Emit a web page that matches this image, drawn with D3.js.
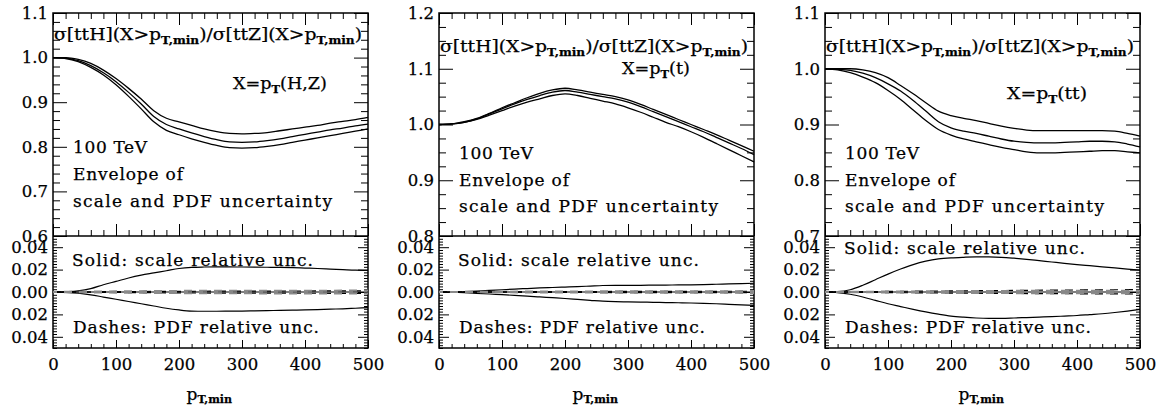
<!DOCTYPE html>
<html>
<head>
<meta charset="utf-8">
<script src="https://cdn.jsdelivr.net/npm/d3@7"></script>
<style>
  body { margin: 0; background: #fff; }
  text { font-family: "DejaVu Serif", "Liberation Serif", serif; fill: #000; stroke: #000; stroke-width: 0.25; }
</style>
</head>
<body>
<svg id="chart" width="1167" height="409"></svg>
<script>
// pT,min grid shared by all curves
const xGrid = [0, 20, 40, 60, 80, 100, 120, 140, 160, 180, 200, 220, 240, 260, 280, 300, 320, 340, 360, 380, 400, 420, 440, 460, 480, 500];
const pdfX = [0, 100, 200, 300, 400, 500];

// ratio ttH/ttZ, envelope (upper, central, lower) -- X = pT(H,Z)
const hzUp  = [1.000, 1.000, 0.996, 0.987, 0.972, 0.953, 0.931, 0.907, 0.881, 0.864, 0.856, 0.848, 0.840, 0.834, 0.830, 0.829, 0.830, 0.832, 0.836, 0.840, 0.844, 0.848, 0.853, 0.857, 0.861, 0.866];
const hzMid = [1.000, 0.999, 0.993, 0.982, 0.966, 0.946, 0.922, 0.896, 0.868, 0.850, 0.840, 0.831, 0.823, 0.816, 0.811, 0.810, 0.811, 0.814, 0.818, 0.823, 0.828, 0.833, 0.838, 0.842, 0.847, 0.851];
const hzDn  = [1.000, 0.998, 0.991, 0.978, 0.961, 0.939, 0.913, 0.885, 0.856, 0.837, 0.827, 0.818, 0.810, 0.803, 0.798, 0.797, 0.798, 0.801, 0.805, 0.810, 0.815, 0.820, 0.825, 0.830, 0.835, 0.840];
// X = pT(t)
const tUp  = [1.000, 1.001, 1.005, 1.011, 1.020, 1.030, 1.039, 1.048, 1.056, 1.062, 1.065, 1.062, 1.058, 1.054, 1.050, 1.044, 1.036, 1.027, 1.018, 1.009, 1.000, 0.991, 0.982, 0.972, 0.962, 0.952];
const tMid = [1.000, 1.001, 1.004, 1.010, 1.019, 1.028, 1.037, 1.045, 1.052, 1.058, 1.061, 1.058, 1.054, 1.050, 1.046, 1.040, 1.032, 1.023, 1.014, 1.005, 0.996, 0.987, 0.977, 0.967, 0.957, 0.946];
const tDn  = [1.000, 1.001, 1.004, 1.009, 1.017, 1.025, 1.033, 1.040, 1.046, 1.052, 1.055, 1.052, 1.047, 1.042, 1.037, 1.030, 1.022, 1.013, 1.004, 0.996, 0.987, 0.977, 0.966, 0.955, 0.944, 0.933];
// X = pT(tt)
const ttUp  = [1.000, 1.000, 1.000, 0.998, 0.993, 0.984, 0.970, 0.955, 0.939, 0.924, 0.916, 0.911, 0.907, 0.902, 0.897, 0.893, 0.890, 0.889, 0.889, 0.889, 0.889, 0.889, 0.889, 0.888, 0.884, 0.879];
const ttMid = [1.000, 0.999, 0.997, 0.992, 0.984, 0.973, 0.960, 0.943, 0.924, 0.905, 0.894, 0.888, 0.884, 0.879, 0.874, 0.870, 0.868, 0.867, 0.867, 0.868, 0.869, 0.870, 0.870, 0.869, 0.865, 0.860];
const ttDn  = [1.000, 0.998, 0.993, 0.985, 0.975, 0.961, 0.945, 0.926, 0.907, 0.891, 0.881, 0.874, 0.869, 0.864, 0.859, 0.855, 0.851, 0.849, 0.849, 0.850, 0.851, 0.852, 0.853, 0.853, 0.851, 0.849];

// scale relative uncertainty (solid)
const hzScaleUp = [0, 0.0003, 0.001, 0.003, 0.0065, 0.0095, 0.0125, 0.015, 0.017, 0.019, 0.021, 0.022, 0.0223, 0.0224, 0.0224, 0.0223, 0.0222, 0.0221, 0.022, 0.0218, 0.0214, 0.021, 0.0205, 0.020, 0.0195, 0.0193];
const hzScaleDn = [0, -0.0003, -0.001, -0.0025, -0.0045, -0.0065, -0.0085, -0.0105, -0.0125, -0.0145, -0.016, -0.017, -0.0172, -0.0172, -0.0171, -0.017, -0.0168, -0.0166, -0.0164, -0.0162, -0.016, -0.0157, -0.0153, -0.015, -0.0145, -0.014];
const tScaleUp = [0, 0, 0.0003, 0.0008, 0.0014, 0.002, 0.0026, 0.0031, 0.0036, 0.004, 0.0044, 0.0048, 0.0053, 0.0058, 0.006, 0.006, 0.006, 0.0061, 0.0062, 0.0063, 0.0064, 0.0066, 0.0069, 0.0072, 0.0075, 0.0078];
const tScaleDn = [0, -0.0002, -0.0006, -0.0012, -0.0018, -0.0024, -0.003, -0.0037, -0.0044, -0.0051, -0.0058, -0.0066, -0.0074, -0.0082, -0.0086, -0.0088, -0.009, -0.0092, -0.0094, -0.0096, -0.0098, -0.0101, -0.0105, -0.011, -0.0115, -0.012];
const ttScaleUp = [0, 0.0003, 0.002, 0.006, 0.011, 0.016, 0.0205, 0.0245, 0.0275, 0.0295, 0.0305, 0.031, 0.0313, 0.0313, 0.031, 0.0302, 0.0292, 0.028, 0.0268, 0.0256, 0.0245, 0.0235, 0.0225, 0.0215, 0.0205, 0.0195];
const ttScaleDn = [0, -0.0005, -0.002, -0.0045, -0.0075, -0.0105, -0.013, -0.0155, -0.0178, -0.0198, -0.0215, -0.0225, -0.0232, -0.0235, -0.0235, -0.0232, -0.0228, -0.0224, -0.022, -0.0215, -0.021, -0.0202, -0.0194, -0.0183, -0.017, -0.0155];

// PDF relative uncertainty (dashes): black set and grey set
const hzPdfUp  = [0, 0.0003, 0.0006, 0.0008, 0.0009, 0.0010];
const hzPdfDn  = [0, -0.0004, -0.0008, -0.0010, -0.0011, -0.0012];
const hzPdf2Up = [0, 0.0006, 0.0010, 0.0012, 0.0012, 0.0013];
const hzPdf2Dn = [0, -0.0006, -0.0010, -0.0012, -0.0013, -0.0013];
const tPdfUp  = [0, 0.0002, 0.0004, 0.0005, 0.0006, 0.0007];
const tPdfDn  = [0, -0.0002, -0.0004, -0.0005, -0.0006, -0.0007];
const tPdf2Up = [0, 0.0003, 0.0005, 0.0006, 0.0007, 0.0008];
const tPdf2Dn = [0, -0.0003, -0.0005, -0.0006, -0.0007, -0.0008];
const ttPdfUp  = [0, 0.0005, 0.0010, 0.0014, 0.0018, 0.0021];
const ttPdfDn  = [0, -0.0005, -0.0010, -0.0013, -0.0016, -0.0018];
const ttPdf2Up = [0, 0.0004, 0.0008, 0.0010, 0.0011, 0.0012];
const ttPdf2Dn = [0, -0.0004, -0.0008, -0.0010, -0.0011, -0.0012];

const xTicks = [0, 100, 200, 300, 400, 500];
const lowTicks = [0.04, 0.02, 0, -0.02, -0.04];

const panels = [
  { label: ['X=p', 'T', '(H,Z)'], yDomain: [0.6, 1.1], yMinor: 0.02,
    ratio: [hzUp, hzMid, hzDn], scale: [hzScaleUp, hzScaleDn],
    pdf: [hzPdfUp, hzPdfDn], pdf2: [hzPdf2Up, hzPdf2Dn] },
  { label: ['X=p', 'T', '(t)'], yDomain: [0.8, 1.2], yMinor: 0.025,
    ratio: [tUp, tMid, tDn], scale: [tScaleUp, tScaleDn],
    pdf: [tPdfUp, tPdfDn], pdf2: [tPdf2Up, tPdf2Dn] },
  { label: ['X=p', 'T', '(tt)'], yDomain: [0.7, 1.1], yMinor: 0.025,
    ratio: [ttUp, ttMid, ttDn], scale: [ttScaleUp, ttScaleDn],
    pdf: [ttPdfUp, ttPdfDn], pdf2: [ttPdf2Up, ttPdf2Dn] },
];

// layout
const lefts = [53, 439, 825];
const W = 315, TOP = 13, MID = 236, BOT = 348;
const textPos = [
  { title: 40, xl: [180, 89, 94], tev: 153, env: 180, unc: 207, solid: 266, dash: 333 },
  { title: 52, xl: [183, 74, 68], tev: 159, env: 186, unc: 212, solid: 266, dash: 333 },
  { title: 52, xl: [182, 99, 80], tev: 159, env: 186, unc: 212, solid: 254, dash: 333 },
];

const svg = d3.select('#chart');

function steps(a, b, s) {
  const n = Math.round((b - a) / s);
  return d3.range(n + 1).map(i => +(a + i * s).toFixed(5));
}

function ticks(g, axisFn, scale, values, size) {
  g.call(axisFn(scale).tickValues(values).tickSize(size).tickFormat(''))
    .call(s => s.select('.domain').remove())
    .call(s => s.selectAll('line').attr('stroke', '#000').attr('stroke-width', 1));
}

function sub(text, parts, dy) {
  parts.forEach((p, i) => {
    const isSub = i % 2 === 1;
    text.append('tspan')
      .attr('dy', i === 0 ? 0 : (isSub ? dy : -dy))
      .attr('font-size', isSub ? 11 : null)
      .attr('font-weight', isSub ? 'bold' : null)
      .text(p);
  });
}

panels.forEach((p, k) => {
  const L = lefts[k];
  const tp = textPos[k];
  const x = d3.scaleLinear().domain([0, 500]).range([L, L + W]);
  const y = d3.scaleLinear().domain(p.yDomain).range([MID, TOP]);
  const y2 = d3.scaleLinear().domain([-0.05, 0.05]).range([BOT, MID]);
  const g = svg.append('g');

  const xMinor = steps(0, 500, 20).filter(v => v % 100 !== 0);
  const yMaj = steps(p.yDomain[0], p.yDomain[1], 0.1);
  const yMin = steps(p.yDomain[0], p.yDomain[1], p.yMinor).filter(v => !yMaj.some(m => Math.abs(m - v) < 1e-6));
  const lowMin = steps(-0.05, 0.05, 0.0025).filter(v => !lowTicks.some(m => Math.abs(m - v) < 1e-6));

  // upper panel ticks
  ticks(g.append('g').attr('transform', `translate(0,${TOP})`), d3.axisBottom, x, xTicks, 12);
  ticks(g.append('g').attr('transform', `translate(0,${TOP})`), d3.axisBottom, x, xMinor, 6);
  ticks(g.append('g').attr('transform', `translate(0,${MID})`), d3.axisTop, x, xTicks, 12);
  ticks(g.append('g').attr('transform', `translate(0,${MID})`), d3.axisTop, x, xMinor, 6);
  ticks(g.append('g').attr('transform', `translate(${L},0)`), d3.axisRight, y, yMaj, 14);
  ticks(g.append('g').attr('transform', `translate(${L},0)`), d3.axisRight, y, yMin, 7);
  ticks(g.append('g').attr('transform', `translate(${L + W},0)`), d3.axisLeft, y, yMaj, 14);
  ticks(g.append('g').attr('transform', `translate(${L + W},0)`), d3.axisLeft, y, yMin, 7);

  // lower panel ticks
  ticks(g.append('g').attr('transform', `translate(0,${BOT})`), d3.axisTop, x, xTicks, 8);
  ticks(g.append('g').attr('transform', `translate(0,${BOT})`), d3.axisTop, x, xMinor, 4);
  ticks(g.append('g').attr('transform', `translate(${L},0)`), d3.axisRight, y2, lowTicks, 10);
  ticks(g.append('g').attr('transform', `translate(${L},0)`), d3.axisRight, y2, lowMin, 4);
  ticks(g.append('g').attr('transform', `translate(${L + W},0)`), d3.axisLeft, y2, lowTicks, 10);
  ticks(g.append('g').attr('transform', `translate(${L + W},0)`), d3.axisLeft, y2, lowMin, 4);

  // tick labels (the 0.6/0.8/0.7 bottom label sits under 0.04, as in the original)
  const lab = (sel) => sel.call(s => s.select('.domain').remove())
    .call(s => s.selectAll('text').attr('font-size', 16.5).attr('font-family', null).attr('fill', '#000'));
  g.append('g').attr('transform', `translate(${L - 5},0)`)
    .call(d3.axisLeft(y).tickValues(yMaj).tickSize(0).tickPadding(0).tickFormat(d3.format('.1f')))
    .call(lab);
  g.append('g').attr('transform', `translate(${L - 5},0)`)
    .call(d3.axisLeft(y2).tickValues(lowTicks).tickSize(0).tickPadding(0).tickFormat(d => Math.abs(d).toFixed(2)))
    .call(lab);
  g.append('g').attr('transform', `translate(0,${BOT + 10})`)
    .call(d3.axisBottom(x).tickValues(xTicks).tickSize(0).tickPadding(0).tickFormat(d3.format('d')))
    .call(lab);

  // frames
  g.append('rect').attr('x', L).attr('y', TOP).attr('width', W).attr('height', BOT - TOP)
    .attr('fill', 'none').attr('stroke', '#000').attr('stroke-width', 1.5);
  g.append('line').attr('x1', L).attr('x2', L + W).attr('y1', MID).attr('y2', MID)
    .attr('stroke', '#000').attr('stroke-width', 1.5);

  // ratio curves
  const line = d3.line().x((d, i) => x(xGrid[i])).y(d => y(d)).curve(d3.curveMonotoneX);
  p.ratio.forEach(r => {
    g.append('path').attr('d', line(r)).attr('fill', 'none').attr('stroke', '#000').attr('stroke-width', 1.3);
  });

  // lower panel
  const line2 = d3.line().x((d, i) => x(xGrid[i])).y(d => y2(d)).curve(d3.curveMonotoneX);
  const linePdf = d3.line().x((d, i) => x(pdfX[i])).y(d => y2(d)).curve(d3.curveMonotoneX);
  g.append('line').attr('x1', x(0)).attr('x2', x(500)).attr('y1', y2(0)).attr('y2', y2(0))
    .attr('stroke', '#000').attr('stroke-width', 1.2);
  p.scale.forEach(s => {
    g.append('path').attr('d', line2(s)).attr('fill', 'none').attr('stroke', '#000').attr('stroke-width', 1.2);
  });
  p.pdf.forEach(s => {
    g.append('path').attr('d', linePdf(s)).attr('fill', 'none').attr('stroke', '#000')
      .attr('stroke-width', 1.2).attr('stroke-dasharray', '8,7');
  });
  p.pdf2.forEach(s => {
    g.append('path').attr('d', linePdf(s)).attr('fill', 'none').attr('stroke', '#8a8a8a')
      .attr('stroke-width', 2).attr('stroke-dasharray', '8,7').attr('stroke-dashoffset', 4);
  });

  // texts
  const title = g.append('text').attr('x', L + 1).attr('y', tp.title).attr('font-size', 17)
    .attr('textLength', 308).attr('lengthAdjust', 'spacingAndGlyphs');
  sub(title, ['σ[ttH](X>p', 'T,min', ')/σ[ttZ](X>p', 'T,min', ')'], 4);

  const xl = g.append('text').attr('x', L + tp.xl[0]).attr('y', tp.xl[1]).attr('font-size', 17)
    .attr('textLength', tp.xl[2]).attr('lengthAdjust', 'spacingAndGlyphs');
  sub(xl, p.label, 4);

  const plain = (t, yy, len, dx) => g.append('text').attr('x', L + (dx || 20)).attr('y', yy)
    .attr('font-size', 17).attr('textLength', len).attr('lengthAdjust', 'spacing').text(t);
  plain('100 TeV', tp.tev, 74);
  plain('Envelope of', tp.env, 110);
  plain('scale and PDF uncertainty', tp.unc, 259);
  plain('Solid: scale relative unc.', tp.solid, 241, 19);
  plain('Dashes: PDF relative unc.', tp.dash, 246);

  const xt = g.append('text').attr('x', L + W / 2 - 24).attr('y', 400).attr('font-size', 17);
  sub(xt, ['p', 'T,min'], 3);
});
</script>
</body>
</html>
